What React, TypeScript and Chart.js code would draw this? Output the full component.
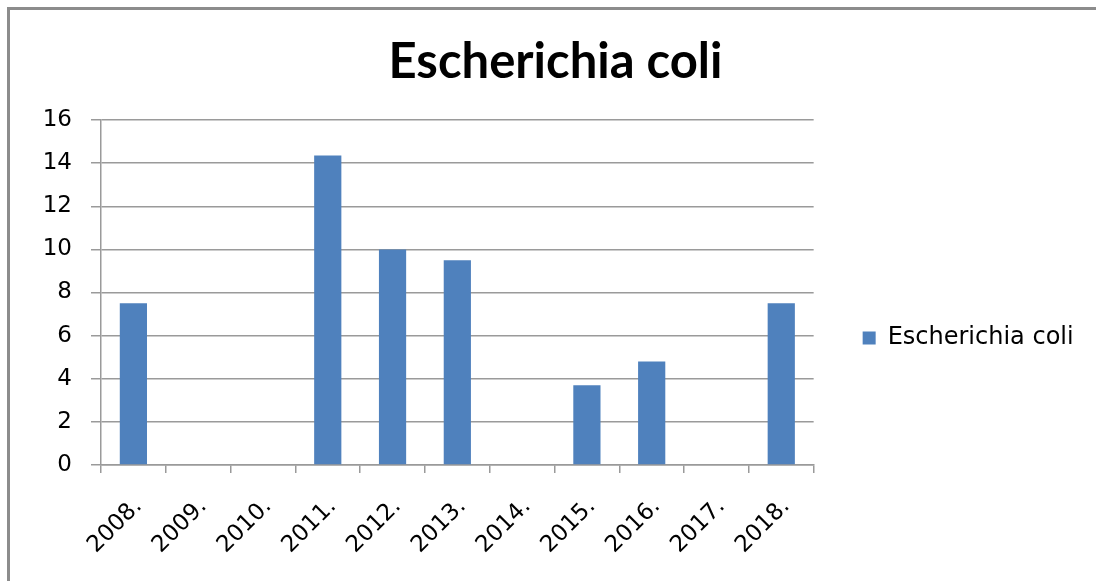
import { useEffect, useRef } from "react";
import { Chart, registerables } from "chart.js";

Chart.register(...registerables);

const categories = ["2008.", "2009.", "2010.", "2011.", "2012.", "2013.", "2014.", "2015.", "2016.", "2017.", "2018."];
const seriesName = "Escherichia coli";
const values: (number | null)[] = [7.5, null, null, 14.35, 10, 9.5, null, 3.7, 4.8, null, 7.5];
const yMin = 0;
const yMax = 16;
const yStep = 2;

export default function App() {
  const ref = useRef<HTMLCanvasElement>(null);

  useEffect(() => {
    const canvas = ref.current;
    if (!canvas) return;
    const LABEL_FONT = "'DejaVu Sans', Verdana, sans-serif";
    const TITLE_FONT = "Lato, 'Liberation Sans', sans-serif";
    const tickSize = 23;
    const legendSize = 24;
    const boxW = 13;
    const legendPad = 49;
    const plotRight = 813;
    const plotLeft = 101;
    const plotBottom = 465;
    const legendCenter = 338;
    const titleCenterX = 555.5;

    const padBottom = 0;
    const legendTitleH = legendCenter * 2 - (581 - padBottom);
    const pad = { left: 30, right: 15, top: 0, bottom: padBottom };

    const chart = new Chart(canvas, {
      type: "bar",
      data: {
        labels: categories,
        datasets: [
          {
            label: seriesName,
            data: values,
            backgroundColor: "#4f81bd",
            borderWidth: 0,
            barPercentage: 0.42,
            categoryPercentage: 1,
          },
        ],
      },
      options: {
        responsive: false,
        animation: false,
        layout: { padding: pad },
        plugins: {
          title: {
            display: true,
            text: seriesName,
            color: "#000",
            font: { family: TITLE_FONT, size: 49, weight: "bold", lineHeight: 1.2 },
            padding: { top: 33, bottom: 28.2 },
          },
          legend: {
            display: true,
            position: "right",
            title: {
              display: true,
              text: " ",
              font: { size: 1, lineHeight: 1 },
              padding: { top: Math.max(0, legendTitleH - 1), bottom: 0 },
            },
            labels: {
              color: "#000",
              font: { family: LABEL_FONT, size: legendSize },
              boxWidth: boxW,
              boxHeight: boxW,
              padding: legendPad,
            },
          },
          tooltip: { enabled: false },
        },
        scales: {
          x: {
            grid: {
              display: true,
              drawOnChartArea: false,
              drawTicks: true,
              tickLength: 8,
              color: "#9a9a9a",
              lineWidth: 1.5,
            },
            border: { display: true, color: "#9a9a9a", width: 1.5 },
            ticks: {
              color: "#000",
              font: { family: LABEL_FONT, size: tickSize },
              maxRotation: 45,
              minRotation: 45,
              padding: 20,
              labelOffset: 5,
              autoSkip: false,
            },
            afterFit: (scale: any) => {
              scale.height = 581 - pad.bottom - plotBottom;
            },
          },
          y: {
            min: yMin,
            max: yMax,
            grid: {
              color: "#9a9a9a",
              lineWidth: 1.5,
              drawTicks: true,
              tickLength: 10,
            },
            border: { display: true, color: "#9a9a9a", width: 1.5 },
            ticks: {
              stepSize: yStep,
              color: "#000",
              font: { family: LABEL_FONT, size: tickSize },
              padding: 19,
            },
            afterFit: (scale: any) => {
              scale.width = plotLeft - pad.left;
            },
          },
        },
      },
    });

    // Correct right padding so the plot area ends where the reference's does,
    // then balance the left padding so the title stays centred like the reference.
    for (let i = 0; i < 3; i++) {
      const dx = chart.chartArea.right - plotRight;
      if (Math.abs(dx) < 0.5) break;
      pad.right = Math.max(0, pad.right + dx);
      pad.left = Math.min(45, Math.max(0, 2 * titleCenterX - 1096 + pad.right));
      (chart.options.layout as any).padding = { ...pad };
      chart.update();
    }

    return () => chart.destroy();
  }, []);

  return (
    <>
      <div
        style={{
          position: "fixed",
          left: 7,
          top: 7,
          width: 1200,
          height: 700,
          border: "3px solid #8c8c8c",
          background: "#fff",
        }}
      />
      <canvas
        ref={ref}
        width={1096}
        height={581}
        style={{ position: "fixed", left: 0, top: 0, width: 1096, height: 581 }}
      />
    </>
  );
}
